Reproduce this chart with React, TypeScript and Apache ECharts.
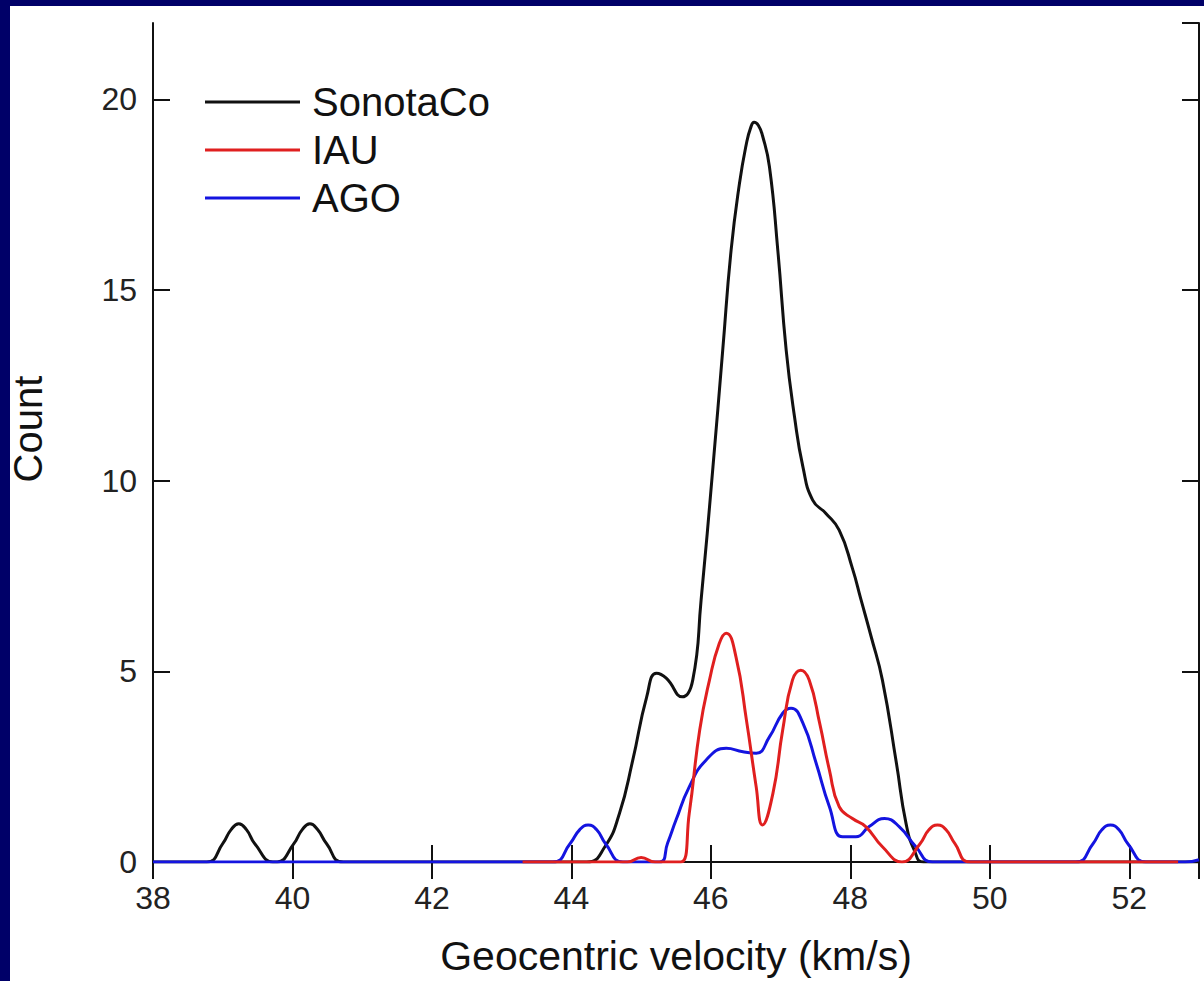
import React, { useEffect, useRef } from "react";
import * as echarts from "echarts";

const NAVY = "#000068";
const FONT = "'Liberation Sans', Arial, sans-serif";

const seriesNames = ["SonotaCo", "IAU", "AGO"];

const sonotaX = [38, 38.77, 39.0, 39.12, 39.23, 39.34, 39.46, 39.72, 39.78, 40.02, 40.14, 40.25, 40.36, 40.49, 40.73, 44.22, 44.48, 44.69, 44.88, 45.08, 45.22, 45.36, 45.59, 45.74, 45.86, 46.03, 46.17, 46.29, 46.41, 46.51, 46.57, 46.62, 46.68, 46.74, 46.84, 46.96, 47.08, 47.2, 47.32, 47.46, 47.65, 47.84, 48.03, 48.15, 48.3, 48.46, 48.66, 48.8, 48.92, 49.05, 53];
const sonotaY = [0, 0, 0.48, 0.85, 1.0, 0.85, 0.48, 0, 0, 0.48, 0.85, 1.0, 0.85, 0.48, 0, 0, 0.4, 1.28, 2.67, 4.33, 4.95, 4.82, 4.33, 4.77, 6.87, 10.36, 13.42, 16.04, 17.79, 18.84, 19.25, 19.4, 19.32, 19.05, 18.23, 16.04, 13.42, 11.67, 10.36, 9.49, 9.14, 8.7, 7.7, 6.9, 5.9, 4.77, 2.6, 1.0, 0.3, 0, 0];

const iauX = [43.3, 44.8, 45.0, 45.2, 45.57, 45.69, 45.84, 45.98, 46.12, 46.22, 46.36, 46.51, 46.65, 46.74, 46.89, 47.03, 47.17, 47.29, 47.41, 47.56, 47.7, 47.84, 48.03, 48.22, 48.46, 48.74, 49.0, 49.13, 49.25, 49.37, 49.5, 49.72, 52.7];
const iauY = [0, 0, 0.12, 0, 0, 1.28, 3.46, 4.77, 5.73, 6.0, 5.38, 3.72, 1.97, 0.97, 1.8, 3.46, 4.77, 5.03, 4.77, 3.64, 2.41, 1.45, 1.14, 0.93, 0.4, 0, 0.48, 0.85, 0.97, 0.85, 0.48, 0, 0];

const agoX = [38, 43.73, 43.98, 44.12, 44.24, 44.36, 44.49, 44.74, 45.26, 45.38, 45.5, 45.69, 45.93, 46.22, 46.46, 46.65, 46.84, 47.03, 47.15, 47.32, 47.51, 47.7, 47.89, 48.08, 48.27, 48.49, 48.7, 48.94, 49.18, 51.23, 51.48, 51.61, 51.73, 51.85, 51.98, 52.24, 52.8, 53];
const agoY = [0, 0, 0.48, 0.85, 0.97, 0.85, 0.48, 0, 0, 0.5, 1.1, 1.97, 2.67, 2.98, 2.89, 2.85, 3.28, 3.9, 4.03, 3.64, 2.59, 1.45, 0.66, 0.66, 0.93, 1.14, 0.93, 0.4, 0, 0, 0.48, 0.85, 0.97, 0.85, 0.48, 0, 0, 0.06];

const X_MIN = 38;
const X_MAX = 53;
const X_STEP = 2;
const Y_MIN = 0;
const Y_MAX = 22;
const Y_STEP = 5;

const zip = (xs: number[], ys: number[]) => xs.map((x, i) => [x, ys[i]]);

export default function App() {
  const ref = useRef<HTMLDivElement>(null);
  useEffect(() => {
    const chart = echarts.init(ref.current!, null, { renderer: "svg" });
    const axisLine = { show: true, lineStyle: { color: "#111", width: 2 } };
    const tick = { show: true, inside: true, length: 17, lineStyle: { color: "#111", width: 2 } };
    const label = { color: "#222", fontSize: 32, fontFamily: FONT, margin: 20, showMaxLabel: false };
    const lineSeries = (name: string, data: number[][], color: string, z: number) => ({
      name,
      type: "line",
      data,
      smooth: 0.5,
      showSymbol: false,
      symbol: "none",
      z,
      lineStyle: { color, width: 3 },
      itemStyle: { color },
    });
    chart.setOption({
      animation: false,
      backgroundColor: "#ffffff",
      graphic: [
        { type: "rect", left: 0, top: 0, shape: { width: 10, height: 981 }, style: { fill: NAVY }, silent: true },
        { type: "rect", left: 0, top: 0, shape: { width: 1204, height: 6 }, style: { fill: NAVY }, silent: true },
      ],
      grid: { left: 153, top: 23, right: 5, bottom: 119, containLabel: false, outerBoundsMode: "none" },
      legend: {
        data: seriesNames,
        orient: "vertical",
        left: 205,
        top: 82,
        padding: 0,
        icon: "rect",
        itemWidth: 95,
        itemHeight: 3,
        itemGap: 8,
        selectedMode: false,
        textStyle: { fontSize: 40, fontFamily: FONT, color: "#111", lineHeight: 40, padding: [0, 0, 0, 7] },
      },
      xAxis: [
        {
          type: "value",
          min: X_MIN,
          max: X_MAX,
          interval: X_STEP,
          position: "bottom",
          name: "Geocentric velocity (km/s)",
          nameLocation: "middle",
          nameGap: 73,
          nameTextStyle: { fontSize: 41, fontFamily: FONT, color: "#111" },
          axisLine,
          axisTick: tick,
          axisLabel: label,
          splitLine: { show: false },
        },
        {
          type: "value",
          min: X_MIN,
          max: X_MAX,
          interval: X_STEP,
          position: "top",
          axisLine,
          axisTick: tick,
          axisLabel: { show: false },
          splitLine: { show: false },
        },
      ],
      yAxis: [
        {
          type: "value",
          min: Y_MIN,
          max: Y_MAX,
          interval: Y_STEP,
          position: "left",
          name: "Count",
          nameLocation: "middle",
          nameGap: 109,
          nameTextStyle: { fontSize: 40, fontFamily: FONT, color: "#111", lineHeight: 32, padding: [0, 0, 0, 27] },
          axisLine,
          axisTick: tick,
          axisLabel: { ...label, margin: 16 },
          splitLine: { show: false },
        },
        {
          type: "value",
          min: Y_MIN,
          max: Y_MAX,
          interval: Y_STEP,
          position: "right",
          axisLine,
          axisTick: tick,
          axisLabel: { show: false },
          splitLine: { show: false },
        },
      ],
      series: [
        lineSeries("SonotaCo", zip(sonotaX, sonotaY), "#111111", 3),
        lineSeries("AGO", zip(agoX, agoY), "#1414e0", 4),
        lineSeries("IAU", zip(iauX, iauY), "#e01f1f", 5),
      ],
    });
    return () => chart.dispose();
  }, []);
  return <div ref={ref} style={{ position: "fixed", left: 0, top: 0, width: 1204, height: 981 }} />;
}
